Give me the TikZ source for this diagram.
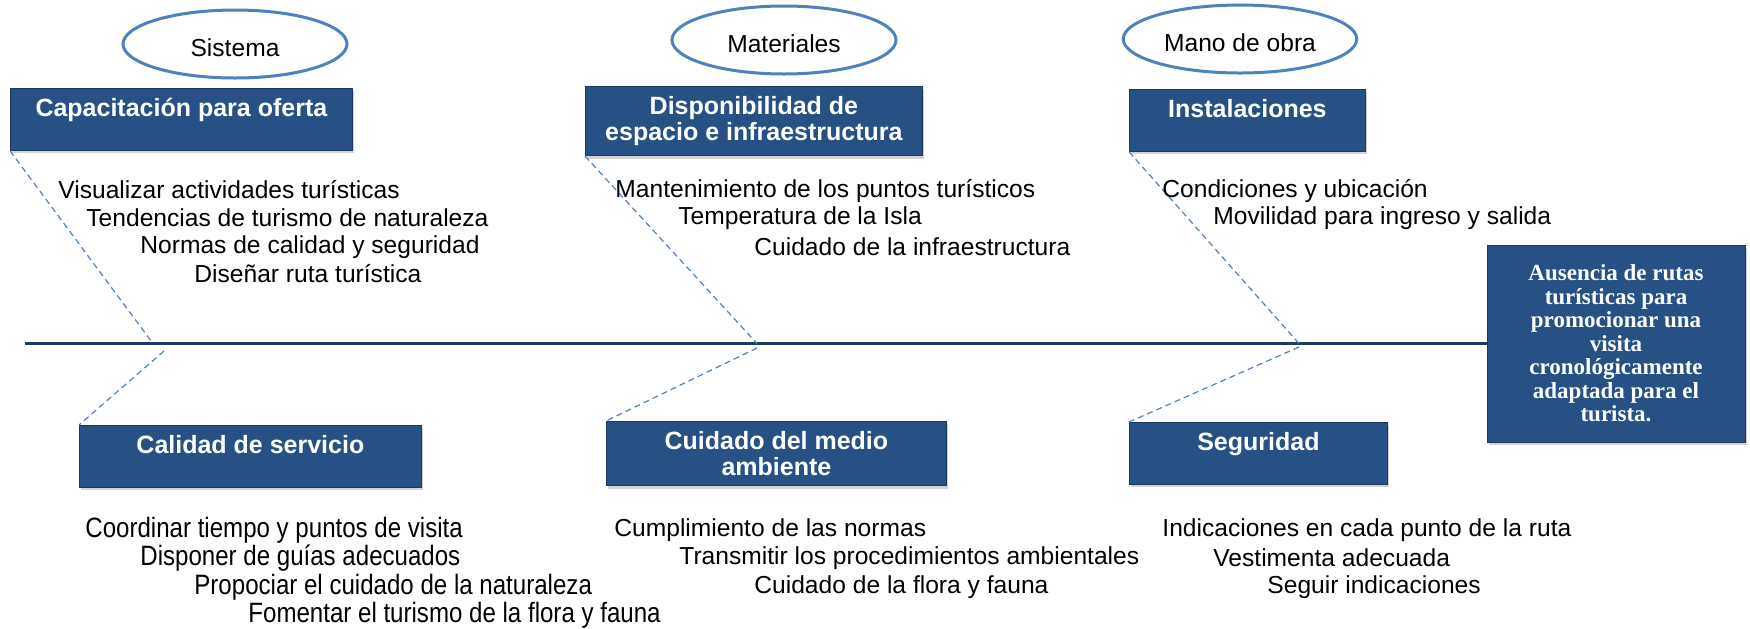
\documentclass[tikz,border=0pt]{standalone}
\usepackage{fontspec}
\setmainfont{Liberation Sans}
\newfontfamily\narrowfont[FakeStretch=0.86]{Liberation Sans}
\newfontfamily\effectfont{Liberation Serif}
\usepackage{tikz}
\usetikzlibrary{positioning, shapes, shapes.geometric, shadows}
\definecolor{boxblue}{RGB}{39,81,133}
\definecolor{spineblue}{RGB}{31,56,100}
\definecolor{lineblue}{RGB}{79,129,189}
\tikzset{
  cause/.style={rectangle, fill=boxblue, draw=boxblue!70!black, text=white,
    anchor=north west, align=center, inner xsep=0pt, inner ysep=5pt,
    font=\bfseries\fontsize{12.5}{13}\selectfont,
    drop shadow={opacity=0.35, shadow xshift=1pt, shadow yshift=-1.5pt}},
  oneline/.style={text height=9pt, text depth=12pt},
  category/.style={ellipse, draw=lineblue, line width=1.5pt, fill=white,
    minimum width=112pt, minimum height=34pt, text height=12.5pt, text depth=0pt,
    font=\fontsize{12.3}{14}\selectfont},
  item/.style={anchor=west, inner sep=0pt, font=\fontsize{12.3}{14}\selectfont},
  narrow/.style={item, font=\narrowfont\fontsize{14}{16}\selectfont},
  bone/.style={draw=lineblue, line width=0.6pt, dash pattern=on 3pt off 2pt},
  spine/.style={draw=spineblue, line width=1.6pt},
  effect/.style={rectangle, fill=boxblue, draw=boxblue!70!black, text=white,
    align=center, minimum width=129pt, minimum height=98.5pt,
    font=\effectfont\bfseries\fontsize{11.5}{11.75}\selectfont,
    drop shadow={opacity=0.35, shadow xshift=1pt, shadow yshift=-1.5pt}}
}

\begin{document}
\begin{tikzpicture}[x=0.5pt, y=-0.5pt]
\useasboundingbox (0,0) rectangle (1750,628);

% categories
\node[category] (sis) at (235,44) {Sistema};
\node[category] (mat) at (784,40) {Materiales};
\node[category] (mano) at (1240,39) {Mano de obra};

% causes
\node[cause, oneline, minimum width=171pt] (cap) at (10,88) {Capacitación para oferta};
\node[cause, minimum width=168.5pt] (dis) at (585,86) {Disponibilidad de\\espacio e infraestructura};
\node[cause, oneline, minimum width=118pt] (ins) at (1129,89) {Instalaciones};
\node[cause, oneline, minimum width=171pt] (cal) at (79,425) {Calidad de servicio};
\node[cause, minimum width=170pt] (cui) at (606,421) {Cuidado del medio\\ambiente};
\node[cause, oneline, minimum width=129pt] (seg) at (1129,422) {Seguridad};

% effect and spine
\node[effect] (efe) at (1616,343.5) {Ausencia de rutas\\turísticas para\\promocionar una\\visita\\cronológicamente\\adaptada para el\\turista.};
\coordinate (sl) at (25,343.5);
\draw[spine] (sl) -- (efe.west);

% bones
\coordinate (j1) at (153,343.5);
\coordinate (k1) at (164,351);
\coordinate (j2) at (757,343.5);
\coordinate (k2) at (757,348);
\coordinate (j3) at (1299,343.5);
\coordinate (k3) at (1299,347);
\draw[bone] (cap.south west) -- (j1);
\draw[bone] (k1) -- (cal.north west);
\draw[bone] (dis.south west) -- (j2);
\draw[bone] (k2) -- (cui.north west);
\draw[bone] (ins.south west) -- (j3);
\draw[bone] (k3) -- (seg.north west);

% sub-causes
\node[item] (cap1) at (58,190) {Visualizar actividades turísticas};
\node[item] (cap2) at (86,218) {Tendencias de turismo de naturaleza};
\node[item] (cap3) at (140,247) {Normas de calidad y seguridad};
\node[item] (cap4) at (194,274) {Diseñar ruta turística};
\node[item] (dis1) at (615,191) {Mantenimiento de los puntos turísticos};
\node[item] (dis2) at (678,218) {Temperatura de la Isla};
\node[item] (dis3) at (754,247) {Cuidado de la infraestructura};
\node[item] (ins1) at (1162,191) {Condiciones y ubicación};
\node[item] (ins2) at (1213,218) {Movilidad para ingreso y salida};
\node[narrow] (cal1) at (85,530) {Coordinar tiempo y puntos de visita};
\node[narrow] (cal2) at (140,558) {Disponer de guías adecuados};
\node[narrow] (cal3) at (194,587) {Propociar el cuidado de la naturaleza};
\node[narrow] (cal4) at (248,615) {Fomentar el turismo de la flora y fauna};
\node[item] (cui1) at (614,530) {Cumplimiento de las normas};
\node[item] (cui2) at (679,558) {Transmitir los procedimientos ambientales};
\node[item] (cui3) at (754,587) {Cuidado de la flora y fauna};
\node[item] (seg1) at (1162,530) {Indicaciones en cada punto de la ruta};
\node[item] (seg2) at (1213,558) {Vestimenta adecuada};
\node[item] (seg3) at (1267,587) {Seguir indicaciones};
\end{tikzpicture}
\end{document}
